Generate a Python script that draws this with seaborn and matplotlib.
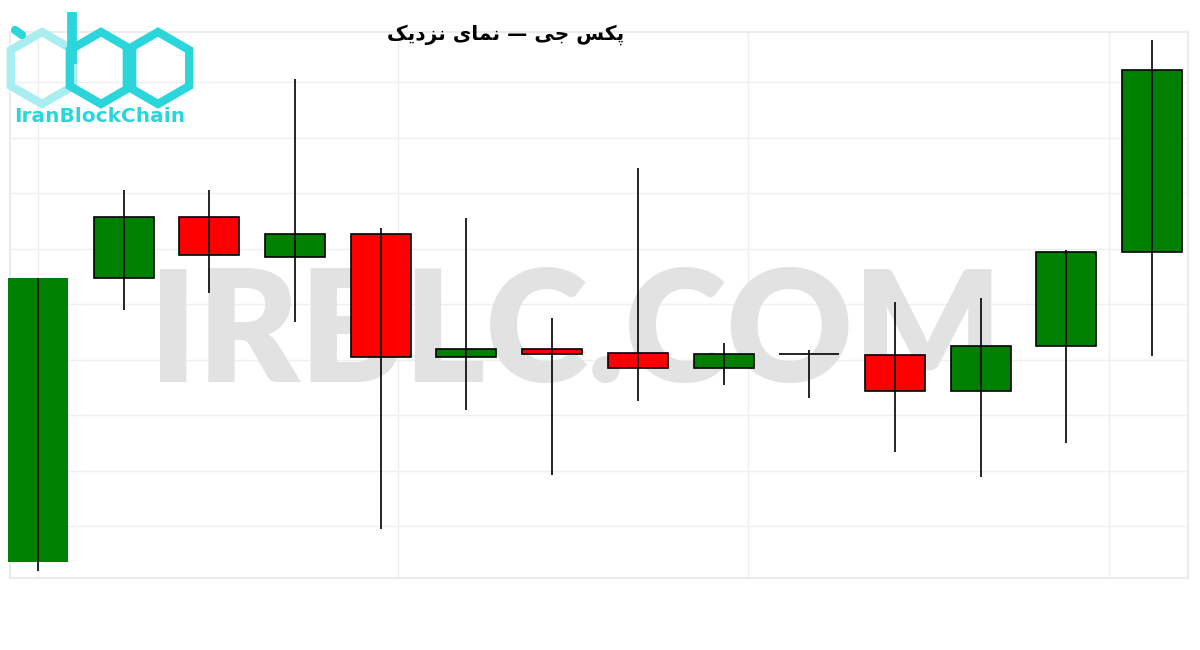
import numpy as np
import pandas as pd
import matplotlib
matplotlib.use("Agg")
import matplotlib.pyplot as plt
from matplotlib.patches import RegularPolygon
import seaborn as sns

# =====================================================
# DATA (arbitrary price units)
# =====================================================

candles = list(range(1, 15))
opens = [38, 322, 383, 343, 366, 243, 251, 247, 232, 246, 245, 209, 254, 348]
closes = [322, 383, 345, 366, 243, 251, 246, 232, 246, 246, 209, 254, 348, 530]
highs = [322, 410, 410, 521, 372, 382, 282, 432, 257, 250, 298, 302, 350, 560]
lows = [29, 290, 307, 278, 71, 190, 125, 199, 215, 202, 148, 123, 157, 244]

# title in visual order with Arabic presentation forms (no shaping engine available)
title = ("\uFB8F\uFBFE\uFEA9\uFEB0\uFEE7 \uFBFC\uFE8E\uFEE4\uFEE7"
         " \u2014 \uFBFD\uFE9F \uFEB2\uFB91\uFB58")
watermark = "IRBLC.COM"
logo_text = "IranBlockChain"

df = pd.DataFrame({"candle": candles, "open": opens, "close": closes,
                   "high": highs, "low": lows})
df["up"] = df["close"] >= df["open"]

# =====================================================
# PLOT
# =====================================================

sns.set_theme(style="whitegrid")
plt.rcParams["font.family"] = ["DejaVu Sans"]

fig = plt.figure(figsize=(12, 6.5), dpi=100)
ax = fig.add_axes([10 / 1200, 1 - 578 / 650, 1178 / 1200, 546 / 650])

x = np.arange(len(df))
colors = np.where(df["up"], "#008000", "#ff0000")
edges = ["none"] + ["black"] * (len(df) - 1)

ax.bar(x, df["close"] - df["open"], bottom=df["open"], width=0.70,
       color=colors, edgecolor=edges, linewidth=1.2, zorder=3, clip_on=False)
ax.vlines(x, df["low"], df["high"], color="black", linewidth=1.2, zorder=4)

ax.set_xlim(-0.327, 13.42)
ax.set_ylim(22, 568)
ax.set_xticks([0, 4.2, 8.28, 12.5])
ax.set_yticks(np.arange(74, 568, 55.5))
ax.set_xticklabels([])
ax.set_yticklabels([])
ax.tick_params(length=0)
ax.grid(True, color="#efefef", linewidth=1)
for s in ax.spines.values():
    s.set_color("#ececec")
    s.set_linewidth(1.5)
ax.set_facecolor("white")

# watermark behind candles
ax.text(0.48, 0.442, watermark, transform=ax.transAxes, ha="center",
        va="center", fontsize=112, fontweight="heavy", color="#e2e2e2",
        family=["Lato", "DejaVu Sans"], zorder=1)

fig.text(506 / 1200, 1 - 35 / 650, title, ha="center", va="center",
         fontsize=14.5, fontweight="bold", color="black")

# =====================================================
# LOGO
# =====================================================

lax = fig.add_axes([0, 1 - 140 / 650, 200 / 1200, 140 / 650])
lax.set_xlim(0, 200)
lax.set_ylim(140, 0)
lax.axis("off")
cyan = "#2ad6da"
pale = "#a8eef0"
for cx, col in [(42, pale), (101, cyan), (158, cyan)]:
    lax.add_patch(RegularPolygon((cx, 68), numVertices=6, radius=36,
                                 orientation=0, fill=False, edgecolor=col,
                                 linewidth=6))
lax.plot([72, 72], [12, 64], color=cyan, linewidth=7, solid_capstyle="butt")
lax.plot([15, 22], [30, 35], color=cyan, linewidth=6)
lax.text(100, 116, logo_text, ha="center", va="center", fontsize=14.5,
         fontweight="bold", color=cyan)

plt.savefig("out.png", dpi=100)
plt.close()
